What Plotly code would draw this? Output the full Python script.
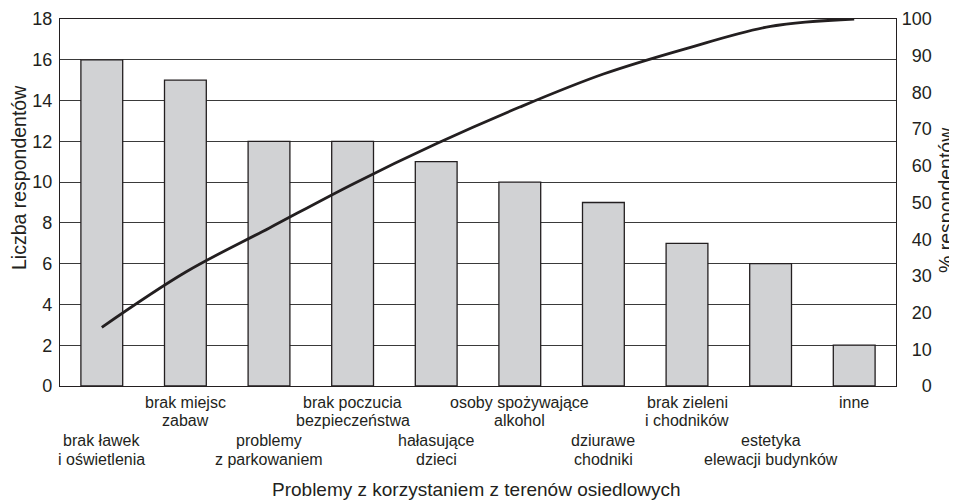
import plotly.graph_objects as go

categories = [
    "brak ławek<br>i oświetlenia",
    "brak miejsc<br>zabaw",
    "problemy<br>z parkowaniem",
    "brak poczucia<br>bezpieczeństwa",
    "hałasujące<br>dzieci",
    "osoby spożywające<br>alkohol",
    "dziurawe<br>chodniki",
    "brak zieleni<br>i chodników",
    "estetyka<br>elewacji budynków",
    "inne",
]
counts = [16, 15, 12, 12, 11, 10, 9, 7, 6, 2]
cum_pct = [16, 31, 43, 55, 66, 76, 85, 92, 98, 100]
left_ticks = [0, 2, 4, 6, 8, 10, 12, 14, 16, 18]
right_ticks = [0, 10, 20, 30, 40, 50, 60, 70, 80, 90, 100]

FONT = "Arial, Liberation Sans, Helvetica, sans-serif"
TXT = "#231f20"

x_idx = list(range(len(categories)))

right_text = []
for v in right_ticks:
    s = str(v)
    right_text.append("\u2007" * (3 - len(s)) + s)

# page body has an 8px margin, so the figure is laid out 8px smaller
W, H = 949, 493
L, R, T, B = 52, 61, 11, 115
plot_w = W - L - R
plot_h = H - T - B
OFF = 8  # body margin offset


def px_x(x):
    return (x - OFF - L) / plot_w


def px_y(y):
    return (H - B - (y - OFF)) / plot_h


fig = go.Figure()
fig.add_trace(go.Bar(
    x=x_idx, y=counts,
    marker=dict(color="#d1d2d4", line=dict(color=TXT, width=1.3)),
    width=0.5, showlegend=False, hoverinfo="skip",
))
fig.add_trace(go.Scatter(
    x=x_idx, y=cum_pct, yaxis="y2", mode="lines",
    line=dict(color=TXT, width=2.8, shape="spline", smoothing=1.0),
    showlegend=False, hoverinfo="skip",
))

annotations = [
    dict(text="Problemy z korzystaniem z terenów osiedlowych",
         x=px_x(476), xref="paper", y=px_y(489), yref="paper",
         showarrow=False, xanchor="center", yanchor="middle",
         font=dict(size=19, family=FONT, color=TXT)),
    dict(text="Liczba respondentów", textangle=-90,
         x=px_x(18.5), xref="paper", y=px_y(177.5), yref="paper",
         showarrow=False, xanchor="center", yanchor="middle",
         font=dict(size=19.5, family=FONT, color=TXT)),
    dict(text="% respondentów", textangle=-90,
         x=px_x(946), xref="paper", y=px_y(200), yref="paper",
         showarrow=False, xanchor="center", yanchor="middle",
         font=dict(size=19.5, family=FONT, color=TXT)),
]

# staggered category labels, one annotation per line
upper_lines = [402, 420]
lower_lines = [441, 459]
for i, c in enumerate(categories):
    ys = lower_lines if i % 2 == 0 else upper_lines
    for j, line in enumerate(c.split("<br>")):
        annotations.append(dict(
            text=line, x=x_idx[i], xref="x", y=px_y(ys[j]), yref="paper",
            showarrow=False, xanchor="center", yanchor="middle",
            font=dict(size=16, family=FONT, color=TXT),
        ))

fig.update_layout(
    width=W, height=H,
    margin=dict(l=L, r=R, t=T, b=B, autoexpand=False),
    paper_bgcolor="white", plot_bgcolor="white",
    font=dict(family=FONT, color=TXT, size=16),
    xaxis=dict(
        range=[-0.5, 9.5], tickmode="array", tickvals=x_idx,
        showticklabels=False, automargin=False,
        showgrid=False, zeroline=False,
        showline=True, linecolor=TXT, linewidth=1.2, mirror=True,
        ticks="",
    ),
    yaxis=dict(
        range=[0, 18], tickmode="array", tickvals=left_ticks, automargin=False,
        tickfont=dict(size=18, family=FONT, color=TXT),
        showgrid=True, gridcolor="#3a3a3a", gridwidth=1,
        zeroline=False, showline=True, linecolor=TXT, linewidth=1.2,
        ticks="outside", ticklen=3, tickcolor="rgba(0,0,0,0)",
    ),
    yaxis2=dict(
        range=[0, 100], overlaying="y", side="right", automargin=False,
        tickmode="array", tickvals=right_ticks, ticktext=right_text,
        tickfont=dict(size=18, family=FONT, color=TXT),
        showgrid=False, zeroline=False, showline=True, linecolor=TXT, linewidth=1.2,
        ticks="outside", ticklen=1, tickcolor="rgba(0,0,0,0)",
    ),
    annotations=annotations,
)

fig.write_html("out.html")
